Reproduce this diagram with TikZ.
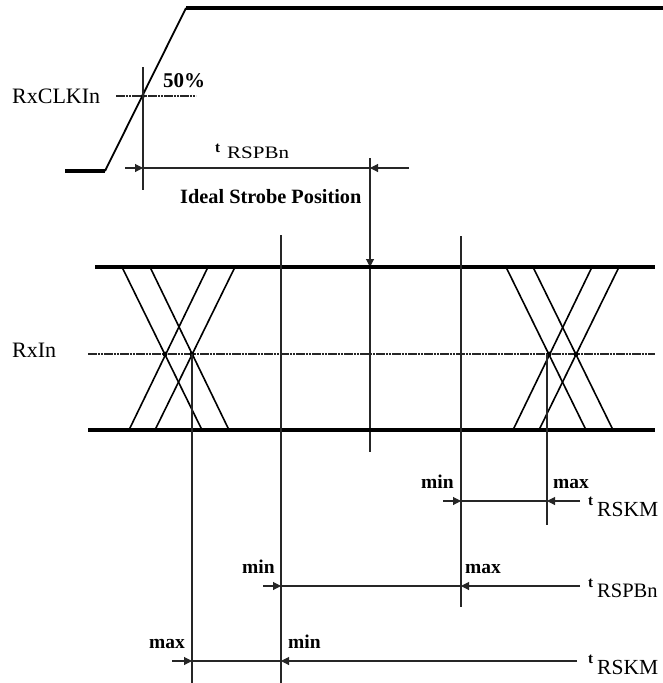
\documentclass[tikz,border=0pt]{standalone}
\usepackage{fontspec}
\usepackage{graphicx}
\setmainfont{Liberation Serif}
\usetikzlibrary{arrows.meta}
\tikzset{
  thinln/.style={line width=1.1pt, black!85},
  thickln/.style={line width=3.6pt},
  clkln/.style={line width=3.2pt},
  edgeln/.style={line width=1.8pt},
  xln/.style={line width=1.6pt},
  halfln/.style={line width=1.5pt, black!85, dash pattern=on 2.6pt off 0.6pt},
  dimarrow/.style={thinln, -{Triangle[length=8pt,width=8pt]}},
  lbl/.style={inner sep=0pt, anchor=base west, font=\fontsize{22}{24}\selectfont},
  bl/.style={inner sep=0pt, anchor=base west, font=\bfseries\fontsize{19.5}{22}\selectfont},
  tl/.style={inner sep=0pt, anchor=base west, font=\bfseries\fontsize{15}{17}\selectfont},
  subl/.style={inner sep=0pt, anchor=base west, font=\fontsize{21.5}{24}\selectfont},
  dot/.style={circle, fill=black, inner sep=0pt, minimum size=5pt}
}
\begin{document}
\begin{tikzpicture}[x=1pt,y=-1pt]
\useasboundingbox (0,0) rectangle (663,683);
% ---------- clock ----------
\coordinate (c0) at (65,171);
\coordinate (c1) at (105,171);
\coordinate (c2) at (186,8);
\coordinate (c3) at (663,8);
\draw[clkln] (c0) -- (c1);
\draw[edgeln] (c1) -- (c2);
\draw[clkln] (c2) -- (c3);
\coordinate (h0) at (116,96);
\coordinate (h1) at (196,96);
\draw[halfln] (h0) -- (h1);
\node[dot, minimum size=4pt] (cx) at (143,96) {};
\coordinate (v0a) at (143,67);
\coordinate (v0b) at (143,190);
\draw[thinln] (v0a) -- (v0b);
\node[lbl] (rxclk) at (12,103) {RxCLKIn};
\node[bl, font=\bfseries\fontsize{21}{24}\selectfont] (pct) at (163,87) {50\%};
% top tRSPBn dimension
\coordinate (ta) at (125,168);
\coordinate (tb) at (143,168);
\coordinate (tc) at (370,168);
\coordinate (td) at (409,168);
\draw[dimarrow] (ta) -- (tb);
\draw[thinln] (tb) -- (tc);
\draw[dimarrow] (td) -- (tc);
\node[tl] (t1) at (215,152) {t};
\node[inner sep=0pt, anchor=base west] (s1) at (227,158) {\scalebox{1.2}[1]{\fontsize{17.5}{19}\selectfont RSPBn}};
\node[bl, font=\bfseries\fontsize{20.3}{22}\selectfont] (isp) at (180,203) {Ideal Strobe Position};
% strobe line
\coordinate (sa) at (370,158);
\coordinate (sb) at (370,267);
\coordinate (sc) at (370,452);
\draw[thinln, -{Triangle[length=8pt,width=8pt]}] (sa) -- (sb);
\draw[thinln] (sb) -- (sc);
% ---------- data ----------
\coordinate (dt0) at (95,267);
\coordinate (dt1) at (655,267);
\coordinate (db0) at (88,430);
\coordinate (db1) at (655,430);
\coordinate (dm0) at (88,354);
\coordinate (dm1) at (655,354);
\draw[thickln] (dt0) -- (dt1);
\draw[thickln] (db0) -- (db1);
\draw[halfln] (dm0) -- (dm1);
% left eye crossing
\draw[xln] (122,267) -- (202,430);
\draw[xln] (150,267) -- (229,430);
\draw[xln] (208,267) -- (129,430);
\draw[xln] (235,267) -- (155,430);
% right eye crossing
\draw[xln] (506,267) -- (586,430);
\draw[xln] (533,267) -- (613,430);
\draw[xln] (592,267) -- (513,430);
\draw[xln] (619,267) -- (539,430);
\node[dot] (x1) at (165,354) {};
\node[dot] (x2) at (192,354) {};
\node[dot] (x3) at (549,354) {};
\node[dot] (x4) at (576,354) {};
\node[lbl] (rxin) at (12,357) {RxIn};
% vertical reference lines
\coordinate (va1) at (192,354);
\coordinate (vb1) at (192,683);
\coordinate (va2) at (281,235);
\coordinate (vb2) at (281,683);
\coordinate (va3) at (461,236);
\coordinate (vb3) at (461,607);
\coordinate (va4) at (547,354);
\coordinate (vb4) at (547,525);
\draw[thinln] (va1) -- (vb1);
\draw[thinln] (va2) -- (vb2);
\draw[thinln] (va3) -- (vb3);
\draw[thinln] (va4) -- (vb4);
% ---------- row 1: tRSKM ----------
\coordinate (r1a) at (443,501);
\coordinate (r1b) at (461,501);
\coordinate (r1c) at (547,501);
\coordinate (r1d) at (580,501);
\draw[dimarrow] (r1a) -- (r1b);
\draw[thinln] (r1b) -- (r1c);
\draw[dimarrow] (r1d) -- (r1c);
\node[bl] (mn1) at (421,488) {min};
\node[bl] (mx1) at (553,488) {max};
\node[tl] (t2) at (588,505) {t};
\node[subl] (s2) at (597,516) {RSKM};
% ---------- row 2: tRSPBn ----------
\coordinate (r2a) at (263,586);
\coordinate (r2b) at (281,586);
\coordinate (r2c) at (461,586);
\coordinate (r2d) at (580,586);
\draw[dimarrow] (r2a) -- (r2b);
\draw[thinln] (r2b) -- (r2c);
\draw[dimarrow] (r2d) -- (r2c);
\node[bl] (mn2) at (242,573) {min};
\node[bl] (mx2) at (465,573) {max};
\node[tl] (t3) at (588,587) {t};
\node[subl, font=\fontsize{20.5}{24}\selectfont] (s3) at (597,597) {RSPBn};
% ---------- row 3: tRSKM ----------
\coordinate (r3a) at (172,661);
\coordinate (r3b) at (192,661);
\coordinate (r3c) at (281,661);
\coordinate (r3d) at (577,661);
\draw[dimarrow] (r3a) -- (r3b);
\draw[thinln] (r3b) -- (r3c);
\draw[dimarrow] (r3d) -- (r3c);
\node[bl] (mx3) at (149,648) {max};
\node[bl] (mn3) at (288,648) {min};
\node[tl] (t4) at (588,663) {t};
\node[subl] (s4) at (597,674) {RSKM};
\end{tikzpicture}
\end{document}
